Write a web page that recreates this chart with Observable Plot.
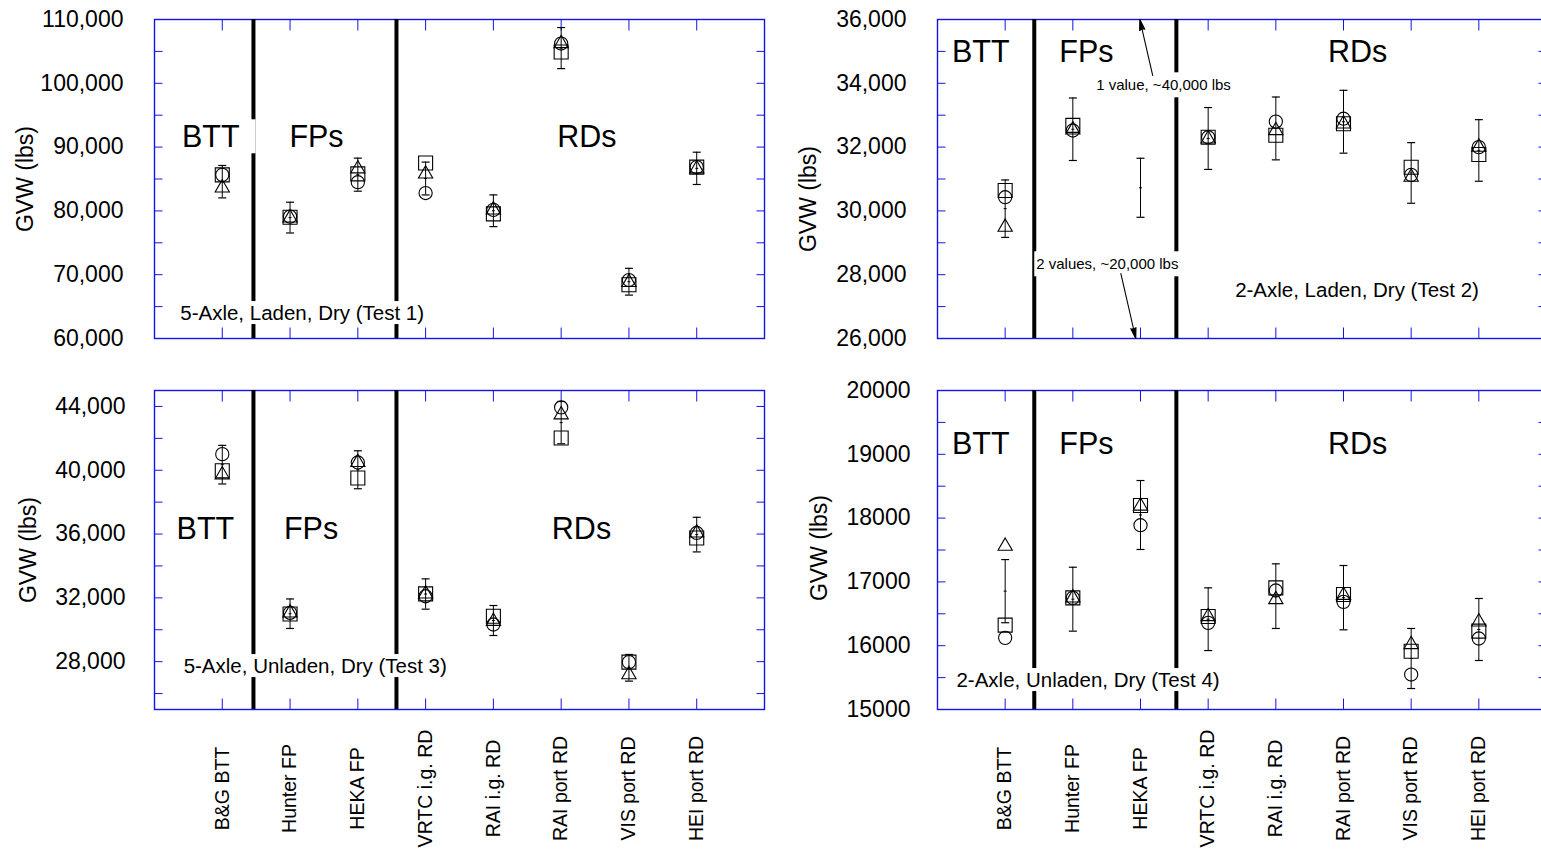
<!DOCTYPE html>
<html>
<head>
<meta charset="utf-8">
<script src="https://cdn.jsdelivr.net/npm/d3@7"></script>
<script src="https://cdn.jsdelivr.net/npm/@observablehq/plot@0.6"></script>
<style>
html, body { margin: 0; padding: 0; background: #fff; overflow: hidden; }
#chart { position: relative; width: 1541px; height: 853px; overflow: hidden; background: #fff; }
#chart svg { position: absolute; }
</style>
</head>
<body>
<div id="chart"></div>
<script>
// ---------- data ----------
const categories = ["B&G BTT", "Hunter FP", "HEKA FP", "VRTC i.g. RD", "RAI i.g. RD", "RAI port RD", "VIS port RD", "HEI port RD"];
const groupLabels = ["BTT", "FPs", "RDs"];

// Test 1: 5-Axle, Laden, Dry
const test1Square   = [85650, 79000, 85800, 87500, 79530, 104900, 68430, 86860];
const test1Circle   = [85650, 79100, 84500, 82800, 80160, 106230, 69160, 86860];
const test1Triangle = [83600, 78900, 86600, 85800, 80160, 106230, 68800, 86600];
const test1Low      = [82040, 76540, 83090, 82500, 77540, 102300, 66800, 84140];
const test1High     = [87120, 81360, 88270, 87650, 82510, 108740, 71000, 89200];
const test1Ticks    = [60000, 70000, 80000, 90000, 100000, 110000];
const test1Minor    = [65000, 70000, 75000, 80000, 85000, 90000, 95000, 100000, 105000];

// Test 2: 2-Axle, Laden, Dry
const test2Square   = [30640, 32680, null, 32310, 32370, 32730, 31370, 31770];
const test2Circle   = [30430, 32520, null, 32310, 32800, 32890, 31130, 32000];
const test2Triangle = [29490, 32540, null, 32260, 32520, 32730, 31060, 32000];
const test2Low      = [29170, 31580, 29800, 31300, 31600, 31810, 30240, 30930];
const test2High     = [30970, 33540, 31650, 33240, 33570, 33780, 32140, 32860];
const test2Ticks    = [26000, 28000, 30000, 32000, 34000, 36000];
const test2Minor    = [27000, 28000, 29000, 30000, 31000, 32000, 33000, 34000, 35000];
const test2Notes    = ["1 value, ~40,000 lbs", "2 values, ~20,000 lbs"];

// Test 3: 5-Axle, Unladen, Dry
const test3Square   = [39970, 30990, 39510, 32250, 30850, 42020, 27970, 35750];
const test3Circle   = [41010, 31060, 40490, 32100, 30330, 43940, 27970, 36070];
const test3Triangle = [39720, 31060, 40490, 32250, 30530, 43480, 27190, 36070];
const test3Low      = [39140, 30080, 38840, 31290, 29640, 41660, 26780, 34880];
const test3High     = [41560, 31930, 41220, 33190, 31520, 44310, 28450, 37050];
const test3Ticks    = [28000, 32000, 36000, 40000, 44000];
const test3Minor    = [26000, 28000, 30000, 32000, 34000, 36000, 38000, 40000, 42000, 44000];

// Test 4: 2-Axle, Unladen, Dry
const test4Square   = [16322, 16750, 18197, 16457, 16907, 16802, 15914, 16228];
const test4Circle   = [16123, 16750, 17889, 16358, 16865, 16687, 15548, 16113];
const test4Triangle = [17560, 16750, 18190, 16457, 16724, 16790, 16019, 16374];
const test4Low      = [16360, 16228, 17508, 15924, 16270, 16249, 15329, 15768];
const test4High     = [17350, 17230, 18589, 16907, 17283, 17257, 16270, 16740];
const test4Ticks    = [15000, 16000, 17000, 18000, 19000, 20000];
const test4Minor    = [15500, 16000, 16500, 17000, 17500, 18000, 18500, 19000, 19500];

const subtitles = ["5-Axle, Laden, Dry (Test 1)", "2-Axle, Laden, Dry (Test 2)", "5-Axle, Unladen, Dry (Test 3)", "2-Axle, Unladen, Dry (Test 4)"];

// ---------- styling helpers ----------
const BLUE = "#1414e6";
const FONT = "'Liberation Sans', Arial, Helvetica, sans-serif";
const sym = (f) => ({draw(ctx) { f(ctx); }});
const tickUp    = sym(c => { c.moveTo(0, 0); c.lineTo(0, -11); });
const tickDown  = sym(c => { c.moveTo(0, 0); c.lineTo(0, 11); });
const tickRight = sym(c => { c.moveTo(0, 0); c.lineTo(8, 0); });
const tickLeft  = sym(c => { c.moveTo(0, 0); c.lineTo(-8, 0); });
const cap       = sym(c => { c.moveTo(-4, 0); c.lineTo(4, 0); });
const midTick   = sym(c => { c.moveTo(-1.5, 0); c.lineTo(1.5, 0); });

const panels = [
  {
    left: 0, top: 0, height: 360, mt: 19, mb: 22, ml: 154, mr: 16,
    domain: [60000, 110000], ticks: test1Ticks, minor: test1Minor, fmt: d3.format(","), pad: 31,
    sq: test1Square, ci: test1Circle, tr: test1Triangle, lo: test1Low, hi: test1High,
    dividers: [1.46, 3.57], groupX: [0.83, 2.39, 6.38], groupY: 91500,
    subtitle: subtitles[0], subX: 0.38, subY: 63920, subAnchor: "start",
    ylab: {dx: -129, dy: 0}, xlabels: false
  },
  {
    left: 780, top: 0, height: 360, mt: 19, mb: 22, ml: 157, mr: 14,
    domain: [26000, 36000], ticks: test2Ticks, minor: test2Minor, fmt: d3.format(","), pad: 31,
    sq: test2Square, ci: test2Circle, tr: test2Triangle, lo: test2Low, hi: test2High,
    dividers: [1.43, 3.53], groupX: [0.64, 2.2, 6.21], groupY: 34966,
    subtitle: subtitles[1], subX: 6.2, subY: 27505, subAnchor: "middle",
    ylab: {dx: -129, dy: 20}, xlabels: false,
    notes: [
      {text: test2Notes[0], x: 3.34, y: 33931},
      {text: test2Notes[1], x: 2.51, y: 28320}
    ],
    arrows: [
      {x1: 3.18, y1: 34245, x2: 2.99, y2: 36000},
      {x1: 2.71, y1: 28037, x2: 2.93, y2: 26000}
    ]
  },
  {
    left: 0, top: 371, height: 482, mt: 19, mb: 144, ml: 154, mr: 16,
    domain: [25000, 45000], ticks: test3Ticks, minor: test3Minor, fmt: d3.format(","), pad: 29,
    sq: test3Square, ci: test3Circle, tr: test3Triangle, lo: test3Low, hi: test3High,
    dividers: [1.46, 3.57], groupX: [0.75, 2.31, 6.3], groupY: 36285,
    subtitle: subtitles[2], subX: 0.43, subY: 27696, subAnchor: "start",
    ylab: {dx: -126, dy: 0}, xlabels: true
  },
  {
    left: 780, top: 371, height: 482, mt: 19, mb: 144, ml: 157, mr: 14,
    domain: [15000, 20000], ticks: test4Ticks, minor: test4Minor, fmt: d3.format("d"), pad: 27,
    sq: test4Square, ci: test4Circle, tr: test4Triangle, lo: test4Low, hi: test4High,
    dividers: [1.43, 3.53], groupX: [0.64, 2.2, 6.21], groupY: 19154,
    subtitle: subtitles[3], subX: 0.28, subY: 15455, subAnchor: "start",
    ylab: {dx: -118, dy: -2}, xlabels: true
  }
];

function makePanel(p) {
  const rows = categories.map((name, i) => ({
    i: i + 1, name, sq: p.sq[i], ci: p.ci[i], tr: p.tr[i], lo: p.lo[i], hi: p.hi[i],
    mid: (p.lo[i] + p.hi[i]) / 2
  }));
  const idx = rows.map(d => d.i);
  const has = k => rows.filter(d => d[k] != null);
  const marks = [
    Plot.frame({stroke: BLUE, strokeWidth: 1.4}),
    Plot.dot(idx, {x: d => d, frameAnchor: "bottom", symbol: tickUp, stroke: BLUE, fill: "none", strokeWidth: 1}),
    Plot.dot(idx, {x: d => d, frameAnchor: "top", symbol: tickDown, stroke: BLUE, fill: "none", strokeWidth: 1}),
    Plot.dot(p.minor, {y: d => d, frameAnchor: "left", symbol: tickRight, stroke: BLUE, fill: "none", strokeWidth: 1}),
    Plot.dot(p.minor, {y: d => d, frameAnchor: "right", symbol: tickLeft, stroke: BLUE, fill: "none", strokeWidth: 1}),
    Plot.ruleX(p.dividers, {x: d => d, stroke: "black", strokeWidth: 4}),
    Plot.text(groupLabels, {x: (d, i) => p.groupX[i], y: () => p.groupY, text: d => d, fontSize: 30.5, fill: "black"}),
    Plot.text([p.subtitle], {x: () => p.subX, y: () => p.subY, text: d => d, textAnchor: p.subAnchor, fontSize: 20.5, fill: "black"}),
    // y tick labels
    Plot.text(p.ticks, {y: d => d, text: d => p.fmt(d), frameAnchor: "left", dx: -p.pad, textAnchor: "end", fontSize: 23, fill: "black"}),
    // y axis title
    Plot.text(["GVW (lbs)"], {frameAnchor: "left", dx: p.ylab.dx, dy: p.ylab.dy, rotate: -90, text: d => d, textAnchor: "middle", fontSize: 23, fill: "black"}),
    // error bars
    Plot.ruleX(rows, {x: "i", y1: "lo", y2: "hi", stroke: "black", strokeWidth: 1}),
    Plot.dot(rows, {x: "i", y: "lo", symbol: cap, stroke: "black", fill: "none", strokeWidth: 1.2}),
    Plot.dot(rows, {x: "i", y: "hi", symbol: cap, stroke: "black", fill: "none", strokeWidth: 1.2}),
    Plot.dot(rows, {x: "i", y: "mid", symbol: midTick, stroke: "black", fill: "none", strokeWidth: 1}),
    // markers
    Plot.dot(has("sq"), {x: "i", y: "sq", symbol: "square", r: 7.9, stroke: "black", fill: "none", strokeWidth: 1.1}),
    Plot.dot(has("ci"), {x: "i", y: "ci", symbol: "circle", r: 6.6, stroke: "black", fill: "none", strokeWidth: 1.1}),
    Plot.dot(has("tr"), {x: "i", y: "tr", symbol: "triangle", r: 5.3, stroke: "black", fill: "none", strokeWidth: 1.1})
  ];
  if (p.notes) {
    marks.push(Plot.text(p.notes, {x: "x", y: "y", text: "text", fontSize: 15, fill: "black"}));
  }
  if (p.arrows) {
    marks.push(Plot.arrow(p.arrows, {x1: "x1", y1: "y1", x2: "x2", y2: "y2", stroke: "black", strokeWidth: 1.1, headLength: 15, headAngle: 28}));
  }
  if (p.xlabels) {
    marks.push(Plot.text(rows, {x: "i", text: "name", frameAnchor: "bottom", dy: 79, rotate: -90, textAnchor: "middle", lineAnchor: "middle", fontSize: 19.5, fill: "black"}));
  }
  const svg = Plot.plot({
    width: 780,
    height: p.height,
    marginTop: p.mt, marginBottom: p.mb, marginLeft: p.ml, marginRight: p.mr,
    x: {domain: [0, 9], axis: null},
    y: {domain: p.domain, axis: null},
    style: {fontFamily: FONT, color: "black", background: "transparent", overflow: "visible"},
    marks
  });
  svg.style.left = p.left + "px";
  svg.style.top = p.top + "px";
  return svg;
}

const chart = document.getElementById("chart");
panels.forEach(p => chart.appendChild(makePanel(p)));

// white boxes behind labelled texts (as in the original, they interrupt the divider lines)
function boxTexts(strings, padL, padR, padV) {
  const set = new Set(strings);
  chart.querySelectorAll("text").forEach(t => {
    if (!set.has(t.textContent)) return;
    const b = t.getBBox();
    const r = document.createElementNS("http://www.w3.org/2000/svg", "rect");
    r.setAttribute("x", b.x - padL);
    r.setAttribute("y", b.y - padV);
    r.setAttribute("width", b.width + padL + padR);
    r.setAttribute("height", b.height + 2 * padV);
    r.setAttribute("fill", "white");
    r.setAttribute("stroke", "none");
    const tr = t.getAttribute("transform");
    if (tr) r.setAttribute("transform", tr);
    t.parentNode.insertBefore(r, t);
  });
}
boxTexts([...groupLabels, ...subtitles], 4, 16, 0);
boxTexts(test2Notes, 2, 2, 4);

// filled arrow heads (the head sub-path of each arrow closes into a triangle)
chart.querySelectorAll("path").forEach(path => {
  const d = path.getAttribute("d") || "";
  if ((d.match(/M/g) || []).length === 2 && !/A/.test(d)) path.setAttribute("fill", "black");
});
</script>
</body>
</html>
